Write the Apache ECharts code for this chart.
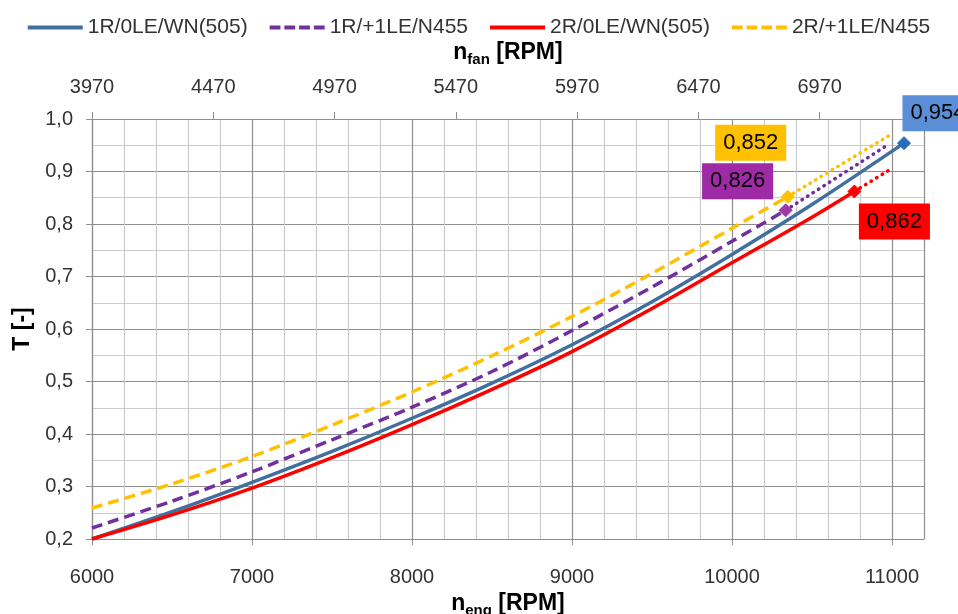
<!DOCTYPE html>
<html>
<head>
<meta charset="utf-8">
<title>T vs n_eng</title>
<script src="https://cdn.jsdelivr.net/npm/echarts@6/dist/echarts.min.js"></script>
<style>
  html, body { margin: 0; padding: 0; background: #fff; }
  #chart { width: 958px; height: 614px; }
</style>
</head>
<body>
<div id="chart"></div>
<script>
// values: n_eng [RPM] / T [-]
const seriesNames = ['1R/0LE/WN(505)', '1R/+1LE/N455', '2R/0LE/WN(505)', '2R/+1LE/N455']

const n1R0LE = [6000, 6500, 7000, 7500, 8000, 8500, 9000, 9500, 10000, 10500, 11075]
const t1R0LE = [0.200, 0.252, 0.308, 0.367, 0.430, 0.497, 0.570, 0.652, 0.742, 0.837, 0.954]

const n1R1LE = [6000, 6500, 7000, 7500, 8000, 8500, 9000, 9500, 10000, 10335]
const t1R1LE = [0.221, 0.272, 0.328, 0.389, 0.451, 0.519, 0.597, 0.680, 0.767, 0.826]

const n2R0LE = [6000, 6500, 7000, 7500, 8000, 8500, 9000, 9500, 10000, 10500, 10765]
const t2R0LE = [0.200, 0.246, 0.297, 0.355, 0.418, 0.485, 0.557, 0.639, 0.726, 0.813, 0.862]

const n2R1LE = [6000, 6500, 7000, 7500, 8000, 8500, 9000, 9500, 10000, 10348]
const t2R1LE = [0.259, 0.305, 0.357, 0.417, 0.480, 0.549, 0.624, 0.706, 0.792, 0.852]

// dotted extensions after the last point
const trendN1R1LE = [10335, 10970]
const trendT1R1LE = [0.826, 0.950]
const trendN2R0LE = [10765, 10995]
const trendT2R0LE = [0.862, 0.905]
const trendN2R1LE = [10348, 10990]
const trendT2R1LE = [0.852, 0.970]

// top axis n_fan [RPM]
const fanTicks = [3970, 4470, 4970, 5470, 5970, 6470, 6970]
const fanMax = 7400

const font = 'Liberation Sans, Arial, sans-serif'
const colors = ['#41709E', '#7030A0', '#FF0000', '#FFC000']

// legend icons: plain bar or dashes
const solidIcon = 'path://M0,0h56v4h-56z'
const dashIcon = 'path://M0,0h11v4h-11zM15,0h11v4h-11zM30,0h11v4h-11zM45,0h11v4h-11z'

const chart = echarts.init(document.getElementById('chart'))

const comma = (v, d) => v.toFixed(d).replace('.', ',')

// last point gets a diamond and a boxed label
const buildData = (ns, ts, markColor, boxColor, offset) => ns.map((n, i) => {
  if (i < ns.length - 1) return [n, ts[i]]
  return {
    value: [n, ts[i]],
    symbol: 'diamond',
    symbolSize: 13,
    itemStyle: { color: markColor, borderColor: markColor },
    label: {
      show: true,
      position: 'inside',
      offset: offset,
      formatter: p => comma(p.value[1], 3),
      backgroundColor: boxColor,
      color: '#000',
      fontFamily: font,
      fontSize: 22,
      padding: [8, 8, 6, 8]
    }
  }
})

const mainLine = (idx, ns, ts, dashed, markColor, boxColor, offset) => ({
  name: seriesNames[idx],
  type: 'line',
  smooth: 0.3,
  symbol: 'none',
  showSymbol: true,
  color: colors[idx],
  lineStyle: { width: 3.5, color: colors[idx], type: dashed ? [11, 6] : 'solid' },
  data: buildData(ns, ts, markColor, boxColor, offset),
  z: 3
})

const trendLine = (idx, ns, ts) => ({
  name: 'trend ' + seriesNames[idx],
  type: 'line',
  symbol: 'none',
  lineStyle: { width: 3.5, color: colors[idx], type: [0.5, 6], cap: 'round' },
  data: ns.map((n, i) => [n, ts[i]]),
  z: 2
})

const axisName = sub => ({
  name: '{a|n}{b|' + sub + '}{a| [RPM]}',
  nameLocation: 'middle',
  nameTextStyle: {
    rich: {
      a: { fontFamily: font, fontSize: 23, fontWeight: 'bold', color: '#000' },
      b: { fontFamily: font, fontSize: 15, fontWeight: 'bold', color: '#000', padding: [14, 0, 0, 0] }
    }
  }
})

const option = {
  animation: false,
  backgroundColor: '#fff',
  textStyle: { fontFamily: font },
  legend: {
    data: [
      { name: seriesNames[0], icon: solidIcon },
      { name: seriesNames[1], icon: dashIcon },
      { name: seriesNames[2], icon: solidIcon },
      { name: seriesNames[3], icon: dashIcon }
    ],
    top: 12,
    left: 'center',
    itemWidth: 55,
    itemHeight: 4,
    itemGap: 22,
    textStyle: { fontFamily: font, fontSize: 21, color: '#333' }
  },
  grid: { left: 92, right: 34, top: 119, bottom: 75, outerBoundsMode: 'none', containLabel: false },
  xAxis: [
    Object.assign(axisName('eng'), {
      type: 'value',
      position: 'bottom',
      min: 6000,
      max: 11200,
      interval: 1000,
      nameGap: 48,
      axisLine: { show: true, lineStyle: { color: '#8E8E8E', width: 1.2 } },
      axisTick: { show: true, length: 6, lineStyle: { color: '#8E8E8E' } },
      axisLabel: { showMaxLabel: false, margin: 28, fontFamily: font, fontSize: 20, color: '#333', formatter: v => String(v) },
      splitLine: { show: true, lineStyle: { color: '#8E8E8E', width: 1.2 } },
      minorTick: { show: false, splitNumber: 5 },
      minorSplitLine: { show: true, lineStyle: { color: '#CBCBCB', width: 1.2 } }
    }),
    Object.assign(axisName('fan'), {
      type: 'value',
      position: 'top',
      min: 0,
      max: fanMax - fanTicks[0],
      interval: 500,
      nameGap: 52,
      axisLine: { show: true, lineStyle: { color: '#8E8E8E', width: 1.2 } },
      axisTick: { show: true, length: 7, lineStyle: { color: '#8E8E8E' } },
      axisLabel: {
        showMaxLabel: false,
        margin: 22,
        fontFamily: font,
        fontSize: 20,
        color: '#333',
        formatter: (v, i) => (fanTicks[i] !== undefined ? String(fanTicks[i]) : '')
      },
      splitLine: { show: false }
    })
  ],
  yAxis: {
    type: 'value',
    min: 0.2,
    max: 1.0,
    interval: 0.1,
    name: 'T [-]',
    nameLocation: 'middle',
    nameGap: 52,
    nameTextStyle: { fontFamily: font, fontSize: 23, fontWeight: 'bold', color: '#000' },
    axisLine: { show: true, lineStyle: { color: '#8E8E8E', width: 1.2 } },
    axisTick: { show: true, length: 6, lineStyle: { color: '#8E8E8E' } },
    axisLabel: { margin: 19, fontFamily: font, fontSize: 20, color: '#333', formatter: v => comma(v, 1) },
    splitLine: { show: true, lineStyle: { color: '#8E8E8E', width: 1.2 } },
    minorTick: { show: false, splitNumber: 2 },
    minorSplitLine: { show: true, lineStyle: { color: '#CBCBCB', width: 1.2 } }
  },
  series: [
    mainLine(0, n1R0LE, t1R0LE, false, '#2A6EBB', '#5A8ED6', [34, -30]),
    mainLine(1, n1R1LE, t1R1LE, true, '#9E3AA8', '#9E2BA5', [-48, -29]),
    mainLine(2, n2R0LE, t2R0LE, false, '#FF0000', '#FF0000', [40, 30]),
    mainLine(3, n2R1LE, t2R1LE, true, '#FFC000', '#FFC000', [-37, -54]),
    trendLine(1, trendN1R1LE, trendT1R1LE),
    trendLine(2, trendN2R0LE, trendT2R0LE),
    trendLine(3, trendN2R1LE, trendT2R1LE)
  ]
}

chart.setOption(option)
window.addEventListener('resize', () => chart.resize())
</script>
</body>
</html>
